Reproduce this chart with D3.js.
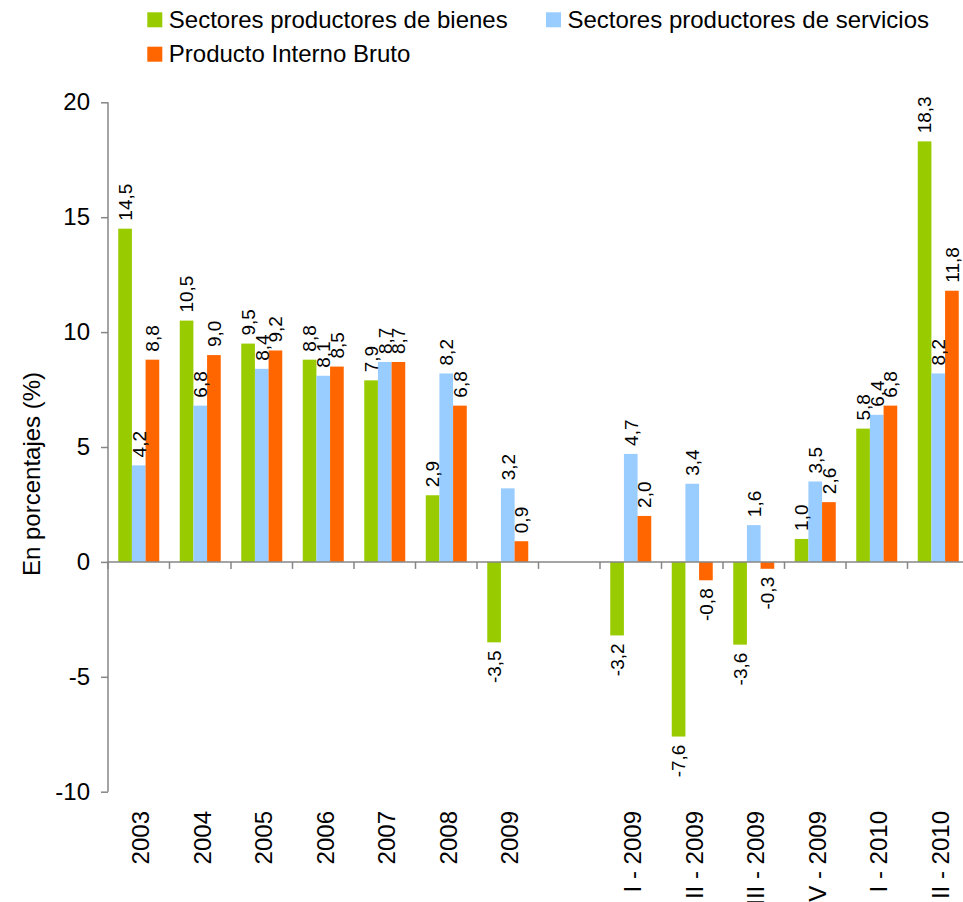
<!DOCTYPE html>
<html>
<head>
<meta charset="utf-8">
<script src="https://cdn.jsdelivr.net/npm/d3@7"></script>
<style>
  html, body { margin: 0; padding: 0; background: #fff; overflow: hidden; }
  svg { display: block; font-family: "Liberation Sans", Arial, sans-serif; }
</style>
</head>
<body>
<svg id="chart" width="963" height="902"></svg>
<script>
const categories = ["2003","2004","2005","2006","2007","2008","2009","","I - 2009","II - 2009","III - 2009","IV - 2009","I - 2010","II - 2010"];
const seriesNames = ["Sectores productores de bienes","Sectores productores de servicios","Producto Interno Bruto"];
const bienes    = [14.5, 10.5, 9.5, 8.8, 7.9, 2.9, -3.5, null, -3.2, -7.6, -3.6, 1.0, 5.8, 18.3];
const servicios = [4.2, 6.8, 8.4, 8.1, 8.7, 8.2, 3.2, null, 4.7, 3.4, 1.6, 3.5, 6.4, 8.2];
const pib       = [8.8, 9.0, 9.2, 8.5, 8.7, 6.8, 0.9, null, 2.0, -0.8, -0.3, 2.6, 6.8, 11.8];
const yTicks = [-10, -5, 0, 5, 10, 15, 20];
const colors = ["#99CC00", "#99CCFF", "#FF6600"];

const series = [bienes, servicios, pib];
const svg = d3.select("#chart");
const axisColor = "#868686";

const x = d3.scaleBand().domain(d3.range(categories.length)).range([108, 969]).padding(0);
const bw = x.bandwidth();
const xi = d3.scaleBand().domain([0,1,2]).range([bw/6, bw*5/6]).padding(0);
const y = d3.scaleLinear().domain([-10, 20]).range([791.7, 102.3]);

const fmt = v => d3.format(".1f")(v).replace(".", ",").replace("\u2212", "-");

// bars
series.forEach((vals, s) => {
  const g = svg.append("g");
  const data = vals.map((v, i) => ({v, i})).filter(d => d.v !== null);
  g.selectAll("rect").data(data).enter().append("rect")
    .attr("x", d => x(d.i) + xi(s))
    .attr("width", xi.bandwidth())
    .attr("y", d => y(Math.max(0, d.v)))
    .attr("height", d => Math.abs(y(d.v) - y(0)))
    .attr("fill", colors[s]);
});

// Y axis
const yAxis = svg.append("g").attr("transform", "translate(108,0)")
  .call(d3.axisLeft(y).tickValues(yTicks).tickSize(7).tickPadding(11).tickFormat(d => String(d)));
yAxis.select(".domain").attr("stroke", axisColor).attr("stroke-width", 1.5).attr("d", `M0,${y(20)}V${y(-10)}`);
yAxis.selectAll(".tick line").attr("stroke", axisColor).attr("stroke-width", 1.5);
yAxis.selectAll(".tick text").attr("font-size", 24).attr("fill", "#000").attr("font-family", "Liberation Sans, Arial, sans-serif");

// X axis (at zero)
const xAxisG = svg.append("g");
xAxisG.append("line").attr("x1", 108).attr("x2", 969).attr("y1", y(0)).attr("y2", y(0))
  .attr("stroke", axisColor).attr("stroke-width", 1.5);
const boundaries = d3.range(categories.length + 1).map(i => i === categories.length ? x.range()[1] : x(i));
xAxisG.selectAll(".xt").data(boundaries).enter().append("line")
  .attr("x1", d => d).attr("x2", d => d)
  .attr("y1", y(0)).attr("y2", y(0) + 7)
  .attr("stroke", axisColor).attr("stroke-width", 1.5);

// category labels
svg.append("g").selectAll("text").data(categories).enter().append("text")
  .attr("transform", (d, i) => `translate(${x(i) + bw/2 + 2},811) rotate(-90)`)
  .attr("text-anchor", "end")
  .attr("dy", "0.35em")
  .attr("font-size", 24)
  .attr("fill", "#000")
  .text(d => d);

// value labels
series.forEach((vals, s) => {
  const data = vals.map((v, i) => ({v, i})).filter(d => d.v !== null);
  svg.append("g").selectAll("text").data(data).enter().append("text")
    .attr("transform", d => {
      const cx = x(d.i) + xi(s) + xi.bandwidth()/2;
      const cy = d.v >= 0 ? y(d.v) - 8 : y(d.v) + 8;
      return `translate(${cx},${cy}) rotate(-90)`;
    })
    .attr("text-anchor", d => d.v >= 0 ? "start" : "end")
    .attr("dy", "0.36em")
    .attr("font-size", 19)
    .attr("fill", "#000")
    .text(d => fmt(d.v));
});

// Y title
svg.append("text")
  .attr("transform", "translate(40,576) rotate(-90)")
  .attr("text-anchor", "start")
  .attr("font-size", 24)
  .attr("fill", "#000")
  .text("En porcentajes (%)");

// legend
const legendPos = [[147.3, 12.3], [546, 12.3], [147.3, 46.7]];
const lg = svg.append("g");
seriesNames.forEach((name, s) => {
  const [lx, ly] = legendPos[s];
  lg.append("rect").attr("x", lx).attr("y", ly).attr("width", 15).attr("height", 15).attr("fill", colors[s]);
  lg.append("text").attr("x", lx + 21.5).attr("y", ly + 15.3).attr("font-size", 24).attr("fill", "#000").text(name);
});
</script>
</body>
</html>
